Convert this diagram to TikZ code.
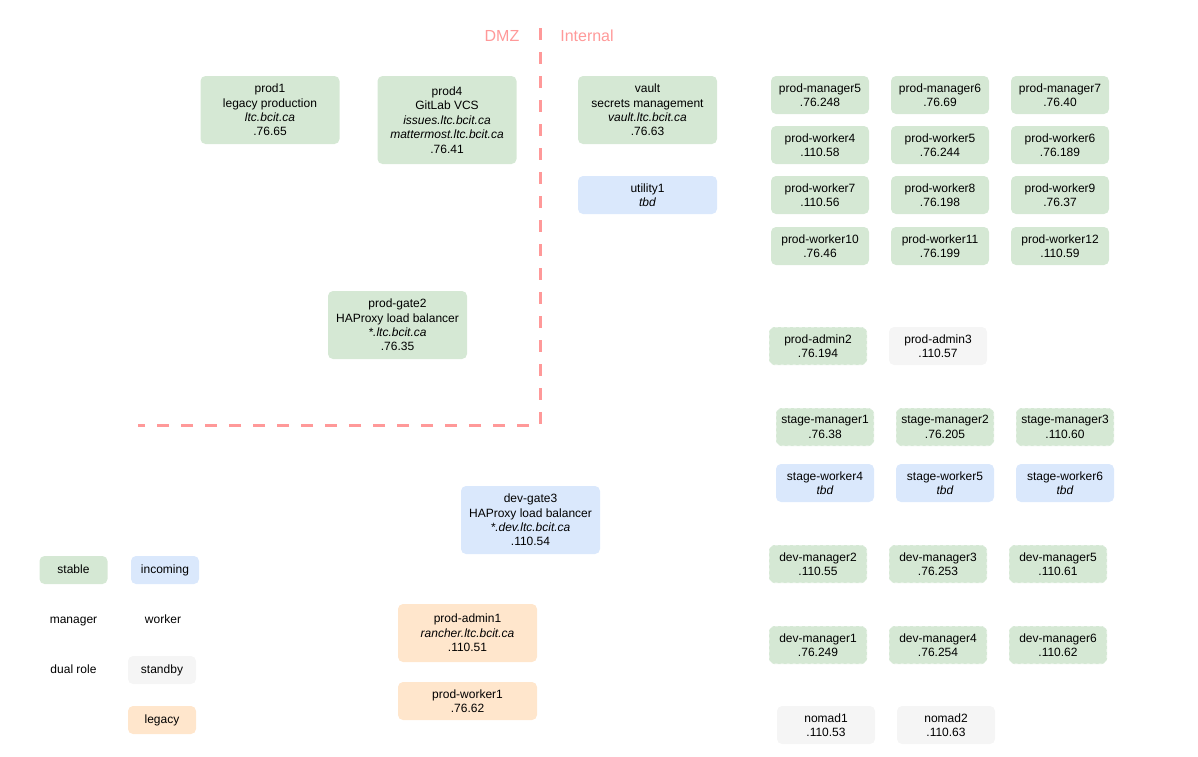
\documentclass[tikz,border=0pt]{standalone}
\usepackage{fontspec}
\setmainfont{Liberation Sans}
\usepackage{xcolor}
\usepackage{tikz}

\definecolor{stablegreen}{HTML}{D5E8D4}
\definecolor{incomingblue}{HTML}{DAE8FC}
\definecolor{standbygray}{HTML}{F5F5F5}
\definecolor{legacyorange}{HTML}{FFE6CC}
\definecolor{zonered}{HTML}{FF9999}

\begin{document}
\begin{tikzpicture}[x=1pt, y=-1pt,
    font=\fontsize{12}{14.4}\selectfont,
    host/.style={rounded corners=5pt, inner sep=0pt, align=center, minimum width=139pt, minimum height=68pt},
    small/.style={host, minimum width=98pt, minimum height=38pt},
    tag/.style={host, minimum width=68pt, minimum height=28pt, text height=8.7pt, text depth=2.6pt},
    stable/.style={fill=stablegreen},
    incoming/.style={fill=incomingblue},
    standby/.style={fill=standbygray},
    legacy/.style={fill=legacyorange},
    dualrole/.style={draw=white, dashed, line width=0.8pt},
    zone/.style={draw=zonered, line width=3pt, dash pattern=on 12pt off 12pt},
    zonetext/.style={text=zonered, font=\fontsize{16}{19}\selectfont}]
    \useasboundingbox (0,0) rectangle (1198,756);

    % DMZ / Internal boundary
    \coordinate (ztop) at (540,28);
    \coordinate (zcorner) at (540,425);
    \coordinate (zleft) at (138,425);
    \draw[zone] (ztop) -- (zcorner) -- (zleft);
    \node[zonetext] (dmz) at (502,36) {DMZ};
    \node[zonetext] (internal) at (587,36) {Internal};

    % DMZ hosts
    \node[host, stable] (prod1) at (270,110) {prod1\\legacy production\\\textit{ltc.bcit.ca}\\.76.65};
    \node[host, stable, minimum height=88pt] (prod4) at (447,120) {prod4\\GitLab VCS\\\textit{issues.ltc.bcit.ca}\\\textit{mattermost.ltc.bcit.ca}\\.76.41};
    \node[host, stable] (gate2) at (397.5,325) {prod-gate2\\HAProxy load balancer\\\textit{*.ltc.bcit.ca}\\.76.35};

    % Internal hosts
    \node[host, stable] (vault) at (647.5,110) {vault\\secrets management\\\textit{vault.ltc.bcit.ca}\\.76.63};
    \node[host, incoming, minimum height=38pt] (utility1) at (647.5,195) {utility1\\\textit{tbd}};

    % Prod cluster
    \node[small, stable] (pm5) at (820,95) {prod-manager5\\.76.248};
    \node[small, stable] (pm6) at (940,95) {prod-manager6\\.76.69};
    \node[small, stable] (pm7) at (1060,95) {prod-manager7\\.76.40};
    \node[small, stable] (pw4) at (820,145) {prod-worker4\\.110.58};
    \node[small, stable] (pw5) at (940,145) {prod-worker5\\.76.244};
    \node[small, stable] (pw6) at (1060,145) {prod-worker6\\.76.189};
    \node[small, stable] (pw7) at (820,195) {prod-worker7\\.110.56};
    \node[small, stable] (pw8) at (940,195) {prod-worker8\\.76.198};
    \node[small, stable] (pw9) at (1060,195) {prod-worker9\\.76.37};
    \node[small, stable] (pw10) at (820,246) {prod-worker10\\.76.46};
    \node[small, stable] (pw11) at (940,246) {prod-worker11\\.76.199};
    \node[small, stable] (pw12) at (1060,246) {prod-worker12\\.110.59};

    % Admin
    \node[small, stable, dualrole] (pa2) at (818,346) {prod-admin2\\.76.194};
    \node[small, standby] (pa3) at (938,346) {prod-admin3\\.110.57};

    % Stage cluster
    \node[small, stable, dualrole] (sm1) at (825,427) {stage-manager1\\.76.38};
    \node[small, stable, dualrole] (sm2) at (945,427) {stage-manager2\\.76.205};
    \node[small, stable, dualrole] (sm3) at (1065,427) {stage-manager3\\.110.60};
    \node[small, incoming] (sw4) at (825,483) {stage-worker4\\\textit{tbd}};
    \node[small, incoming] (sw5) at (945,483) {stage-worker5\\\textit{tbd}};
    \node[small, incoming] (sw6) at (1065,483) {stage-worker6\\\textit{tbd}};

    % Dev cluster
    \node[host, incoming] (gate3) at (530.5,520) {dev-gate3\\HAProxy load balancer\\\textit{*.dev.ltc.bcit.ca}\\.110.54};
    \node[small, stable, dualrole] (dm2) at (818,564) {dev-manager2\\.110.55};
    \node[small, stable, dualrole] (dm3) at (938,564) {dev-manager3\\.76.253};
    \node[small, stable, dualrole] (dm5) at (1058,564) {dev-manager5\\.110.61};
    \node[small, stable, dualrole] (dm1) at (818,645) {dev-manager1\\.76.249};
    \node[small, stable, dualrole] (dm4) at (938,645) {dev-manager4\\.76.254};
    \node[small, stable, dualrole] (dm6) at (1058,645) {dev-manager6\\.110.62};

    % Legacy
    \node[host, legacy, minimum height=58pt] (pa1) at (467.5,633) {prod-admin1\\\textit{rancher.ltc.bcit.ca}\\.110.51};
    \node[host, legacy, minimum height=38pt] (pw1) at (467.5,701) {prod-worker1\\.76.62};

    % Nomad
    \node[small, standby] (nomad1) at (826,725) {nomad1\\.110.53};
    \node[small, standby] (nomad2) at (946,725) {nomad2\\.110.63};

    % Legend
    \node[tag, stable] (lstable) at (73.5,570) {stable};
    \node[tag, incoming] (lincoming) at (165,570) {incoming};
    \node[tag] (lmanager) at (73.5,620) {manager};
    \node[tag] (lworker) at (163,620) {worker};
    \node[tag, dualrole] (ldual) at (73.5,670) {dual role};
    \node[tag, standby] (lstandby) at (162,670) {standby};
    \node[tag, legacy] (llegacy) at (162,720) {legacy};
\end{tikzpicture}
\end{document}
